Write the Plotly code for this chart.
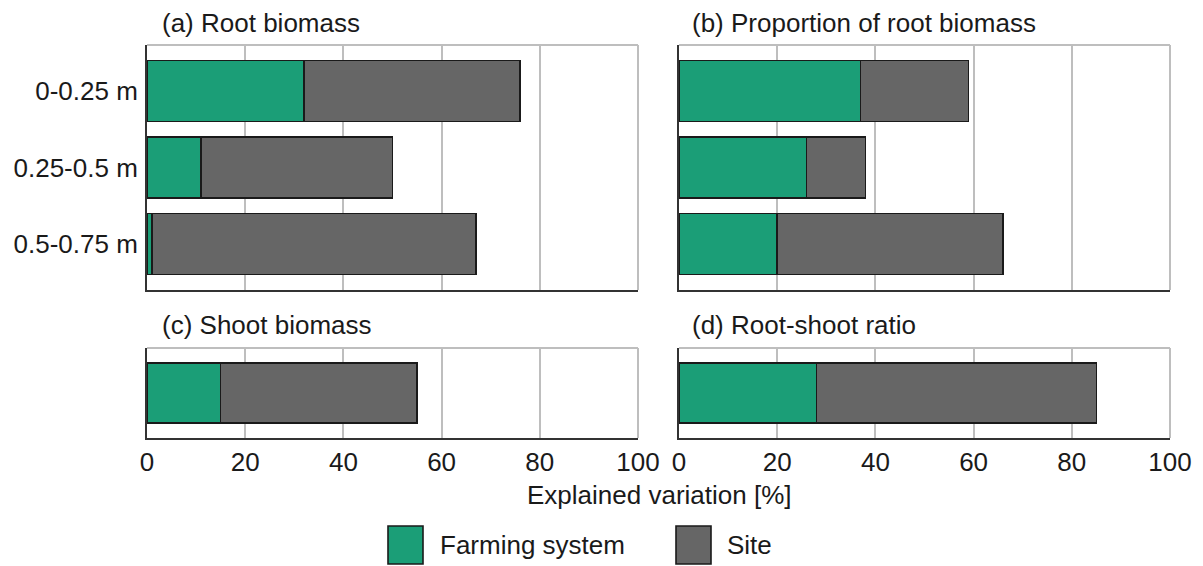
import plotly.graph_objects as go

# ---------------- data ----------------
depths = ["0-0.25 m", "0.25-0.5 m", "0.5-0.75 m"]
root_farming = [32, 11, 1]
root_site = [44, 39, 66]
prop_farming = [37, 26, 20]
prop_site = [22, 12, 46]
shoot_farming = [15]
shoot_site = [40]
ratio_farming = [28]
ratio_site = [57]
x_ticks = [0, 20, 40, 60, 80, 100]
panel_titles = ["(a) Root biomass", "(b) Proportion of root biomass",
                "(c) Shoot biomass", "(d) Root-shoot ratio"]
series_names = ["Farming system", "Site"]
series_colors = ["#1B9E77", "#666666"]
x_title = "Explained variation [%]"

# ---------------- layout constants ----------------
W, H = 1203, 566
FONT = "Liberation Sans, Arial, sans-serif"
FS = 26
TXT = "#1a1a1a"
GRID = "#BEBEBE"
AX = "#333333"
OUTLINE = "#1a1a1a"

xdom = {"a": [147 / W, 638 / W], "b": [679 / W, 1170 / W]}
ydom_top = [1 - 290 / H, 1 - 45 / H]
ydom_bot = [1 - 438 / H, 1 - 348 / H]

fig = go.Figure()

panels = [
    ("x", "y", depths, root_farming, root_site),
    ("x2", "y2", depths, prop_farming, prop_site),
    ("x3", "y3", [0], shoot_farming, shoot_site),
    ("x4", "y4", [0], ratio_farming, ratio_site),
]
for xa, ya, cats, farm, site in panels:
    for name, vals, col in zip(series_names, [farm, site], series_colors):
        fig.add_trace(go.Bar(
            x=vals, y=cats, orientation="h", name=name,
            marker=dict(color=col, line=dict(color=OUTLINE, width=1.6)),
            xaxis=xa, yaxis=ya, showlegend=False,
        ))

def xaxis(dom, anchor, labels):
    return dict(domain=dom, anchor=anchor, range=[0, 100], tickvals=x_ticks,
                showticklabels=labels, showgrid=True, gridcolor=GRID, gridwidth=2,
                zeroline=False, showline=True, linecolor=AX, linewidth=2,
                ticks="", ticklabelstandoff=0, automargin=False,
                tickfont=dict(family=FONT, size=FS, color=TXT), fixedrange=True)

def yaxis(dom, anchor, rng, labels):
    return dict(domain=dom, anchor=anchor, range=rng, showticklabels=labels,
                showgrid=False, zeroline=False, showline=True, linecolor=AX,
                linewidth=2, ticks="", ticklabelstandoff=2, automargin=False,
                tickfont=dict(family=FONT, size=FS, color=TXT), fixedrange=True)

fig.update_layout(
    width=W, height=H,
    margin=dict(l=0, r=0, t=0, b=0, pad=0, autoexpand=False),
    paper_bgcolor="white", plot_bgcolor="white",
    barmode="stack", bargap=0.2,
    showlegend=False,
    xaxis=xaxis(xdom["a"], "y", False),
    xaxis2=xaxis(xdom["b"], "y2", False),
    xaxis3=xaxis(xdom["a"], "y3", True),
    xaxis4=xaxis(xdom["b"], "y4", True),
    yaxis=dict(yaxis(ydom_top, "x", [2.6, -0.6], True), type="category"),
    yaxis2=dict(yaxis(ydom_top, "x2", [2.6, -0.6], False), type="category"),
    yaxis3=yaxis(ydom_bot, "x3", [-0.6, 0.6], False),
    yaxis4=yaxis(ydom_bot, "x4", [-0.6, 0.6], False),
)

# top and right borders of each panel (light grey)
for xa, ya in [("x", "y"), ("x2", "y2"), ("x3", "y3"), ("x4", "y4")]:
    fig.add_shape(type="line", xref=f"{xa} domain", yref=f"{ya} domain",
                  x0=0, x1=1, y0=1, y1=1, line=dict(color=GRID, width=2), layer="below")
    fig.add_shape(type="line", xref=f"{xa} domain", yref=f"{ya} domain",
                  x0=1, x1=1, y0=0, y1=1, line=dict(color=GRID, width=2), layer="below")

# panel titles
title_pos = [(160, 23), (690, 23), (160, 325), (690, 325)]
for t, (px, py) in zip(panel_titles, title_pos):
    fig.add_annotation(text=t, xref="paper", yref="paper", x=px / W, y=1 - py / H,
                       xanchor="left", yanchor="middle", showarrow=False,
                       font=dict(family=FONT, size=FS, color=TXT))

# shared x-axis title
fig.add_annotation(text=x_title, xref="paper", yref="paper", x=659 / W, y=1 - 495 / H,
                   xanchor="center", yanchor="middle", showarrow=False,
                   font=dict(family=FONT, size=FS, color=TXT))

# legend (drawn manually to reproduce the large key squares)
legend_items = [(388, 438), (676, 725)]
for (sq_x, tx_x), name, col in zip(legend_items, series_names, series_colors):
    fig.add_shape(type="rect", xref="paper", yref="paper",
                  x0=sq_x / W, x1=(sq_x + 35) / W, y0=1 - 564 / H, y1=1 - 526 / H,
                  fillcolor=col, line=dict(color=OUTLINE, width=1.6))
    fig.add_annotation(text=name, xref="paper", yref="paper", x=tx_x / W, y=1 - 545 / H,
                       xanchor="left", yanchor="middle", showarrow=False,
                       font=dict(family=FONT, size=FS, color=TXT))

fig.write_html("out.html", config={"displayModeBar": False},
               post_script="document.body.style.margin='0';document.body.style.overflow='hidden';")
